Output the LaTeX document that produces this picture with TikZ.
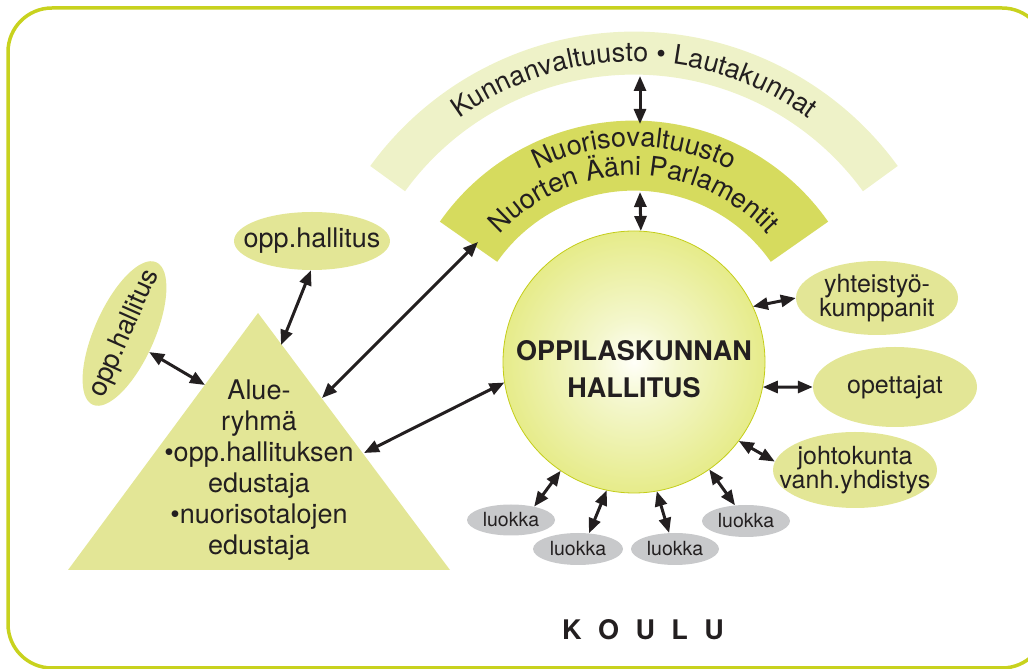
\documentclass[tikz,border=0pt]{standalone}
\usepackage{fontspec}
\setmainfont{TeX Gyre Heros}
\usetikzlibrary{shapes.geometric,arrows.meta,calc,decorations.text}
\definecolor{framecol}{RGB}{200,210,30}
\definecolor{lightarc}{RGB}{238,242,200}
\definecolor{midarc}{RGB}{214,219,94}
\definecolor{pale}{RGB}{227,230,150}
\definecolor{greyel}{RGB}{200,201,203}
\definecolor{ink}{RGB}{35,31,32}
\definecolor{ballc}{RGB}{255,255,248}
\definecolor{ballb}{RGB}{244,247,205}
\definecolor{ballm}{RGB}{226,232,118}
\definecolor{balle}{RGB}{208,216,45}
\definecolor{ballr}{RGB}{196,205,25}
\pgfdeclareradialshading{ball}{\pgfpoint{0bp}{0bp}}{color(0bp)=(ballc); color(8bp)=(ballb); color(30bp)=(ballm); color(47bp)=(balle); color(50bp)=(ballr)}
\begin{document}
\begin{tikzpicture}[x=1pt,y=1pt,
  font=\fontsize{27}{31}\selectfont,
  every node/.style={text=ink},
  dbl/.style={{Triangle[length=15pt,width=12pt]}-{Triangle[length=15pt,width=12pt]}, line width=3pt, draw=ink},
  paleell/.style={ellipse, fill=pale, inner sep=0pt},
  luokkaell/.style={ellipse, fill=greyel, inner sep=0pt, minimum width=88pt, minimum height=31pt},
  lbl/.style={inner sep=0pt, align=center},
  rtxt/.style={lbl, font=\fontsize{25}{23}\selectfont},
  ltxt/.style={lbl, font=\fontsize{19.5}{19}\selectfont},
]
\useasboundingbox (0,0) rectangle (1028,669);
\draw[framecol, line width=3.5pt, rounded corners=44pt] (8,1) rectangle (1046,661);

% arcs
\coordinate (A) at (634,311.4);
\fill[lightarc] ($(A)+(36:326)$) arc[start angle=36,end angle=144,radius=326]
  -- ($(A)+(144:283)$) arc[start angle=144,end angle=36,radius=283] -- cycle;
\fill[midarc] ($(A)+(35:237)$) arc[start angle=35,end angle=145,radius=237]
  -- ($(A)+(145:167)$) arc[start angle=145,end angle=35,radius=167] -- cycle;

\path[decorate, decoration={text along path, text align=center,
  text={|\color{ink}\fontsize{27}{27}\selectfont|Kunnanvaltuusto • Lautakunnat}}]
  ($(A)+(150:296)$) arc[start angle=150,end angle=30,radius=296];
\path[decorate, decoration={text along path, text align=center,
  text={|\color{ink}\fontsize{27}{27}\selectfont|Nuorisovaltuusto}}]
  ($(A)+(150:211)$) arc[start angle=150,end angle=30,radius=211];
\path[decorate, decoration={text along path, text align=center,
  text={|\color{ink}\fontsize{27}{27}\selectfont|Nuorten Ääni Parlamentit}}]
  ($(A)+(150:182)$) arc[start angle=150,end angle=30,radius=182];

% central circle
\node[circle, minimum size=262pt, inner sep=0pt, shading=ball] (circ) at (634,307) {};
\draw[ballr, line width=0.8pt] (circ.center) circle[radius=131pt];
\node[lbl, font=\bfseries\fontsize{27}{37}\selectfont] (circt) at (634,300) {OPPILASKUNNAN\\HALLITUS};

% triangle
\fill[pale] (68,99) -- (450,99) -- (258,356) -- cycle;
\node[lbl] (tri) at (259,198.5) {Alue-\\ryhmä\\•opp.hallituksen\\edustaja\\•nuorisotalojen\\edustaja};
\coordinate (t1) at (281,324);
\coordinate (t2) at (205,284);
\coordinate (t3) at (322,271);
\coordinate (t4) at (364,216);

% ellipses
\node[paleell, minimum width=156pt, minimum height=58pt] (oh1) at (312,428) {};
\node[lbl] (oh1t) at (312,428) {opp.hallitus};
\node[paleell, minimum width=156pt, minimum height=60pt, rotate=66] (oh2) at (124.5,335.5) {};
\node[lbl, rotate=66] (oh2t) at (124.5,335.5) {opp.hallitus};
\node[paleell, minimum width=162pt, minimum height=74pt] (yht) at (877,371) {};
\node[rtxt] (yhtt) at (877,371) {yhteistyö-\\kumppanit};
\node[paleell, minimum width=164pt, minimum height=80pt] (opet) at (895,282) {};
\node[rtxt] (opett) at (895,282) {opettajat};
\node[paleell, minimum width=164pt, minimum height=76pt] (johto) at (855,199) {};
\node[rtxt] (johtot) at (855,199) {johtokunta\\vanh.yhdistys};

\node[luokkaell] (la) at (511,149) {};
\node[ltxt] (lat) at (511,149) {luokka};
\node[luokkaell, minimum width=90pt, minimum height=32pt] (lb) at (578,120) {};
\node[ltxt] (lbt) at (578,120) {luokka};
\node[luokkaell, minimum height=32pt] (lc) at (675,120) {};
\node[ltxt] (lct) at (675,120) {luokka};
\node[luokkaell, minimum height=32pt] (ld) at (746,148) {};
\node[ltxt] (ldt) at (746,148) {luokka};

% coordinates on arcs
\coordinate (l1) at (640,593);
\coordinate (m2) at (640,545);
\coordinate (m3) at (640,477);
\coordinate (m1) at (478,427);

% arrows
\draw[dbl] (l1) -- (m2);
\draw[dbl] (m3) -- (circ.87);
\draw[dbl] (oh1.268) -- (t1);
\draw[dbl] (oh2.257) -- (t2);
\draw[dbl] (t3) -- (m1);
\draw[dbl] (t4) -- (circ.189);
\draw[dbl] (circ.25) -- (yht.west);
\draw[dbl] (circ.-11) -- (opet.west);
\draw[dbl] (circ.-37) -- (johto.174);
\draw[dbl] (circ.236) -- (la.30);
\draw[dbl] (circ.258) -- (lb.55);
\draw[dbl] (circ.280) -- (lc.110);
\draw[dbl] (circ.305) -- (ld.125);

% school label
\node[lbl, font=\bfseries\fontsize{27}{27}\selectfont] (koulu) at (643,39) {K\hspace{16.5pt}O\hspace{16.5pt}U\hspace{16.5pt}L\hspace{16.5pt}U};
\end{tikzpicture}
\end{document}
